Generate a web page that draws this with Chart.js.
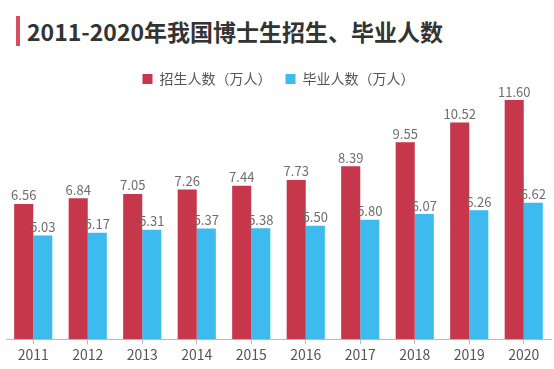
<!DOCTYPE html>
<html lang="zh">
<head>
<meta charset="UTF-8">
<title>2011-2020年我国博士生招生、毕业人数</title>
<script src="https://cdn.jsdelivr.net/npm/chart.js"></script>
<style>
  body { margin: 0; background: #fff; }
  #wrap { position: relative; width: 554px; height: 369px; }
  #title {
    position: absolute; left: 16px; top: 16px;
    border-left: 4px solid #d4505f; padding-left: 7px;
    font: bold 23px "Noto Sans CJK SC", sans-serif; color: #333;
    line-height: 30px;
  }
  canvas { position: absolute; left: 0; top: 0; }
</style>
</head>
<body>
<div id="wrap">
  <div id="title">2011-2020年我国博士生招生、毕业人数</div>
  <canvas id="myChart" width="554" height="369"></canvas>
</div>
<script>
  var years = ['2011', '2012', '2013', '2014', '2015', '2016', '2017', '2018', '2019', '2020'];
  var enrolled = [6.56, 6.84, 7.05, 7.26, 7.44, 7.73, 8.39, 9.55, 10.52, 11.60];
  var graduated = [5.03, 5.17, 5.31, 5.37, 5.38, 5.50, 5.80, 6.07, 6.26, 6.62];

  // 在柱子上方写数值
  var valueLabels = {
    id: 'valueLabels',
    afterDatasetsDraw: function(chart) {
      var ctx = chart.ctx;
      ctx.save();
      ctx.font = '13px "Noto Sans CJK SC", sans-serif';
      ctx.fillStyle = '#6e6e6e';
      ctx.textAlign = 'center';
      ctx.textBaseline = 'bottom';
      chart.data.datasets.forEach(function(ds, i) {
        chart.getDatasetMeta(i).data.forEach(function(bar, j) {
          ctx.fillText(ds.data[j].toFixed(2), bar.x, bar.y - 2);
        });
      });
      ctx.restore();
    }
  };

  var ctx = document.getElementById('myChart').getContext('2d');
  new Chart(ctx, {
    type: 'bar',
    data: {
      labels: years,
      datasets: [{
        label: '招生人数（万人）',
        data: enrolled,
        backgroundColor: '#c6374b',
        categoryPercentage: 0.7,
        barPercentage: 1
      }, {
        label: '毕业人数（万人）',
        data: graduated,
        backgroundColor: '#3dbaee',
        categoryPercentage: 0.7,
        barPercentage: 1
      }]
    },
    options: {
      responsive: false,
      animation: false,
      layout: { padding: { top: 58, left: 6, right: 3, bottom: 4 } },
      plugins: {
        legend: {
          labels: {
            boxWidth: 10, boxHeight: 10, padding: 14,
            color: '#555',
            font: { size: 14, family: '"Noto Sans CJK SC", sans-serif' }
          }
        },
        tooltip: { enabled: false }
      },
      scales: {
        x: {
          grid: { offset: false, drawOnChartArea: false, drawTicks: true, tickLength: 5, color: '#bbb' },
          border: { color: '#bbb' },
          ticks: { color: '#555', padding: 2, font: { size: 14, family: '"Noto Sans CJK SC", sans-serif' } }
        },
        y: {
          display: false,
          min: 0,
          max: 11.8
        }
      }
    },
    plugins: [valueLabels]
  });
</script>
</body>
</html>
